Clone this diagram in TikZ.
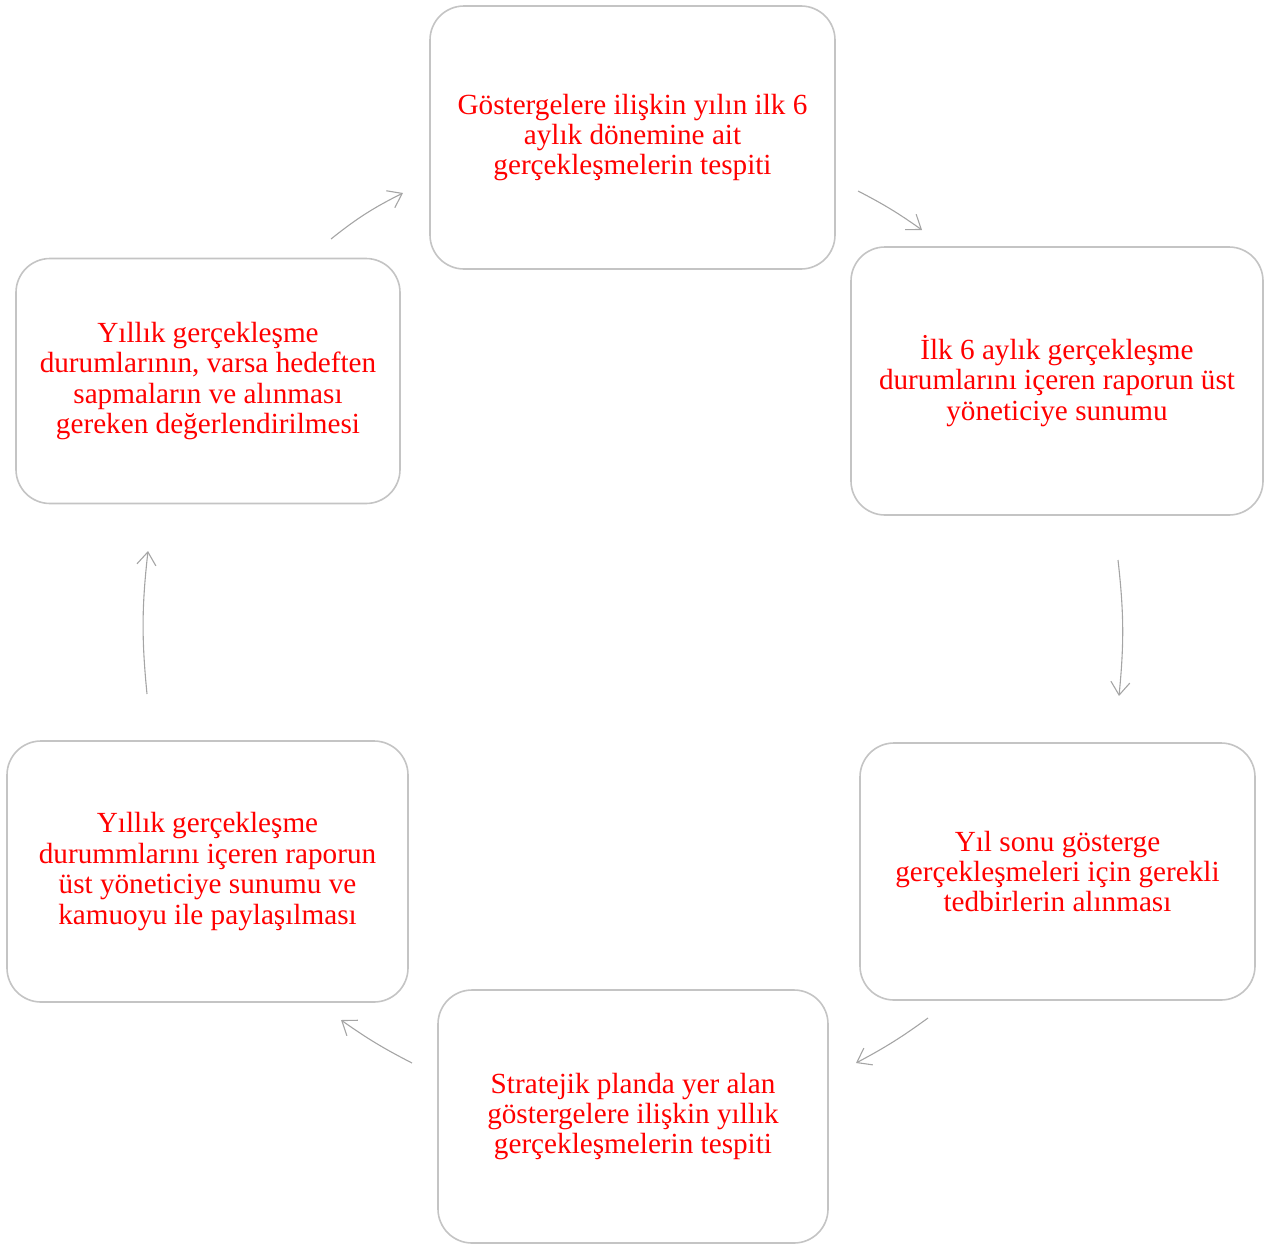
\documentclass[tikz,border=0pt]{standalone}
\usepackage{fontspec}
\setmainfont{Liberation Serif}
\usetikzlibrary{arrows.meta}
\definecolor{boxline}{RGB}{196,196,196}
\definecolor{arrline}{RGB}{165,165,165}
\definecolor{txtred}{RGB}{255,0,0}
\begin{document}
\begin{tikzpicture}[x=1pt,y=-1pt,
  stagebox/.style={draw=boxline, line width=1.6pt, rounded corners=34pt, fill=white,
    align=center, text=txtred, inner sep=0pt,
    font=\fontsize{29.2}{30.4}\selectfont},
  cyc/.style={draw=arrline, line width=1.1pt, -{Straight Barb[length=13pt,width=19pt,line width=1.1pt]}}]
\useasboundingbox (0,0) rectangle (1271,1245);
\node[stagebox, minimum width=405pt, minimum height=263pt] (n1) at (632.5,137.5)
  {Göstergelere ilişkin yılın ilk 6\\aylık dönemine ait\\gerçekleşmelerin tespiti};
\node[stagebox, minimum width=412pt, minimum height=268pt] (n2) at (1057,381)
  {İlk 6 aylık gerçekleşme\\durumlarını içeren raporun üst\\yöneticiye sunumu};
\node[stagebox, minimum width=395pt, minimum height=257pt] (n3) at (1057.5,871.5)
  {Yıl sonu gösterge\\gerçekleşmeleri için gerekli\\tedbirlerin alınması};
\node[stagebox, minimum width=390pt, minimum height=253pt] (n4) at (633,1116.5)
  {Stratejik planda yer alan\\göstergelere ilişkin yıllık\\gerçekleşmelerin tespiti};
\node[stagebox, minimum width=401pt, minimum height=261pt] (n5) at (207.5,871.5)
  {Yıllık gerçekleşme\\durummlarını içeren raporun\\üst yöneticiye sunumu ve\\kamuoyu ile paylaşılması};
\node[stagebox, minimum width=384pt, minimum height=245pt] (n6) at (208,381)
  {Yıllık gerçekleşme\\durumlarının, varsa hedeften\\sapmaların ve alınması\\gereken değerlendirilmesi};
% arrow end points
\coordinate (a1s) at (331,239);  \coordinate (a1e) at (403,193);
\coordinate (a2s) at (858,191);  \coordinate (a2e) at (922,230);
\coordinate (a3s) at (1118,560); \coordinate (a3e) at (1119,696);
\coordinate (a4s) at (928,1018); \coordinate (a4e) at (856,1063);
\coordinate (a5s) at (412,1063); \coordinate (a5e) at (341,1020);
\coordinate (a6s) at (147,694);  \coordinate (a6e) at (148,551);
\draw[cyc] (a1s) to[bend left=6] (a1e);
\draw[cyc] (a2s) to[bend left=4] (a2e);
\draw[cyc] (a3s) to[bend left=6] (a3e);
\draw[cyc] (a4s) to[bend left=4] (a4e);
\draw[cyc] (a5s) to[bend left=4] (a5e);
\draw[cyc] (a6s) to[bend left=6] (a6e);
\end{tikzpicture}
\end{document}
